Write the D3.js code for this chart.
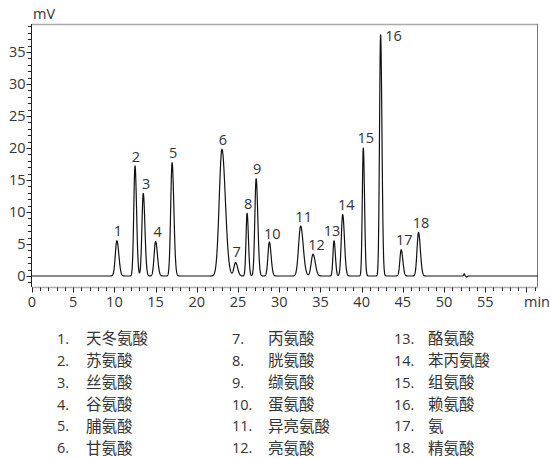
<!DOCTYPE html>
<html>
<head>
<meta charset="utf-8">
<script src="https://cdn.jsdelivr.net/npm/d3@7/dist/d3.min.js"></script>
<style>
  html, body { margin: 0; padding: 0; background: #fff; }
  svg { display: block; }
  text { font-family: "Open Sans", "Noto Sans", sans-serif; fill: #333; }
  .cjk { font-family: "Noto Sans CJK SC", "Noto Sans", sans-serif; }
</style>
</head>
<body>
<svg id="chart" width="550" height="459"></svg>
<script>
// Peak table of the amino-acid chromatogram
const peakIds        = [1, 2, 3, 4, 5, 6, 7, 8, 9, 10, 11, 12, 13, 14, 15, 16, 17, 18];
const retentionTimes = [10.3, 12.5, 13.5, 15.0, 17.0, 23.05, 24.7, 26.1, 27.2, 28.8, 32.6, 34.1, 36.65, 37.7, 40.2, 42.3, 44.8, 46.9];
const peakHeights    = [5.5, 17.2, 12.9, 5.4, 17.7, 19.8, 2.1, 9.8, 15.2, 5.3, 7.8, 3.4, 5.5, 9.6, 20.0, 37.7, 4.1, 6.8];
const peakSigmas     = [0.19, 0.15, 0.16, 0.18, 0.17, 0.33, 0.2, 0.13, 0.16, 0.17, 0.25, 0.22, 0.13, 0.17, 0.12, 0.13, 0.16, 0.18];
// small baseline disturbance near the end of the run
const blipTimes   = [52.45, 52.75];
const blipHeights = [0.35, -0.15];
const blipSigmas  = [0.06, 0.08];

const compoundNames = ["天冬氨酸", "苏氨酸", "丝氨酸", "谷氨酸", "脯氨酸", "甘氨酸",
                       "丙氨酸", "胱氨酸", "缬氨酸", "蛋氨酸", "异亮氨酸", "亮氨酸",
                       "酪氨酸", "苯丙氨酸", "组氨酸", "赖氨酸", "氨", "精氨酸"];

const xMajorTicks = d3.range(0, 56, 5);
const xMinorTicks = d3.range(0, 62, 1);
const yMajorTicks = d3.range(0, 36, 5);
const yMinorTicks = d3.range(-1, 40, 1);

const svg = d3.select("#chart");
const plot = { left: 32, top: 24, right: 538, bottom: 287 };

const x = d3.scaleLinear().domain([0, 61.4]).range([plot.left, plot.right]);
const y = d3.scaleLinear().domain([-1.72, 39.38]).range([plot.bottom, plot.top]);

// Detector signal: sum of slightly tailing Gaussian peaks
const tailing = 1.25;
function signal(t) {
  let v = 0;
  for (let i = 0; i < retentionTimes.length; i++) {
    const dt = t - retentionTimes[i];
    const s = dt > 0 ? peakSigmas[i] * tailing : peakSigmas[i];
    v += peakHeights[i] * Math.exp(-0.5 * (dt / s) * (dt / s));
  }
  for (let i = 0; i < blipTimes.length; i++) {
    const dt = (t - blipTimes[i]) / blipSigmas[i];
    v += blipHeights[i] * Math.exp(-0.5 * dt * dt);
  }
  return v;
}
const samples = d3.range(0, 61.4, 0.01).map(t => [t, signal(t)]);

// Frame
svg.append("line").attr("x1", plot.left).attr("x2", plot.right)
  .attr("y1", plot.top + 0.5).attr("y2", plot.top + 0.5)
  .attr("stroke", "#aaa").attr("stroke-width", 1.5);
svg.append("line").attr("x1", plot.right - 0.5).attr("x2", plot.right - 0.5)
  .attr("y1", plot.top).attr("y2", plot.bottom)
  .attr("stroke", "#777").attr("stroke-width", 1);

// Bottom axis
const xAxisG = svg.append("g").attr("transform", `translate(0,${plot.bottom + 0.5})`);
xAxisG.append("line").attr("x1", plot.left).attr("x2", plot.right)
  .attr("stroke", "#aaa").attr("stroke-width", 1.5);
xAxisG.selectAll("line.minor").data(xMinorTicks).join("line")
  .attr("class", "minor")
  .attr("x1", d => Math.round(x(d)) + 0.5).attr("x2", d => Math.round(x(d)) + 0.5)
  .attr("y1", 0).attr("y2", d => d % 5 === 0 ? 5 : 3.5)
  .attr("stroke", "#222").attr("stroke-width", 1);
xAxisG.selectAll("text").data(xMajorTicks).join("text")
  .attr("x", d => x(d)).attr("y", 14)
  .attr("text-anchor", "middle").attr("dy", "0.35em")
  .attr("font-size", 14.5)
  .text(d => d);
svg.append("text").attr("x", 537).attr("y", plot.bottom + 14.5).attr("dy", "0.35em")
  .attr("text-anchor", "middle").attr("font-size", 14.5).text("min");

// Left axis
const yAxisG = svg.append("g").attr("transform", `translate(${plot.left - 0.5},0)`);
yAxisG.append("line").attr("y1", plot.top).attr("y2", plot.bottom)
  .attr("stroke", "#222").attr("stroke-width", 1);
yAxisG.selectAll("line.minor").data(yMinorTicks).join("line")
  .attr("class", "minor")
  .attr("y1", d => Math.round(y(d)) + 0.5).attr("y2", d => Math.round(y(d)) + 0.5)
  .attr("x1", 0).attr("x2", d => d % 5 === 0 ? -5 : -3.5)
  .attr("stroke", "#222").attr("stroke-width", 1);
yAxisG.selectAll("text").data(yMajorTicks).join("text")
  .attr("x", -6).attr("y", d => y(d)).attr("dy", "0.35em")
  .attr("text-anchor", "end").attr("font-size", 14.5)
  .text(d => d);
svg.append("text").attr("x", 33).attr("y", 14).attr("dy", "0.35em")
  .attr("font-size", 14.5).text("mV");

// Trace
svg.append("path").datum(samples)
  .attr("fill", "none").attr("stroke", "#111").attr("stroke-width", 1.2)
  .attr("stroke-linejoin", "round")
  .attr("d", d3.line().x(d => x(d[0])).y(d => y(d[1])));

// Peak numbers, nudged where neighbours crowd
const labelNudge = {
  3: [3, 0], 4: [2, 0], 7: [1, -1], 10: [3, 1], 11: [3, 0], 12: [3.5, 0],
  13: [-2, 0], 14: [3.5, 0], 15: [2.5, -1], 16: [13, 11], 17: [3, 0], 18: [2.5, 0]
};
svg.append("g").selectAll("text").data(peakIds).join("text")
  .attr("x", (d, i) => x(retentionTimes[i]) + 1 + (labelNudge[d] ? labelNudge[d][0] - 1 : 0))
  .attr("y", (d, i) => y(peakHeights[i]) - 9.5 + (labelNudge[d] ? labelNudge[d][1] : 0))
  .attr("dy", "0.35em").attr("text-anchor", "middle").attr("font-size", 14.5)
  .text(d => d);

// Legend: three columns of six compounds
const legendCols = [57, 232, 394];
const legendNameOffset = [29, 36, 34];
const legendRowTop = 339, legendRowStep = 21.85;
const legend = svg.append("g");
compoundNames.forEach((name, i) => {
  const col = Math.floor(i / 6), row = i % 6;
  const yy = legendRowTop + row * legendRowStep;
  legend.append("text").attr("x", legendCols[col]).attr("y", yy).attr("dy", "0.35em")
    .attr("font-size", 14.5).text(peakIds[i] + ".");
  legend.append("text").attr("class", "cjk")
    .attr("x", legendCols[col] + legendNameOffset[col]).attr("y", yy).attr("dy", "0.35em")
    .attr("font-size", 15.5).text(name);
});
</script>
</body>
</html>
